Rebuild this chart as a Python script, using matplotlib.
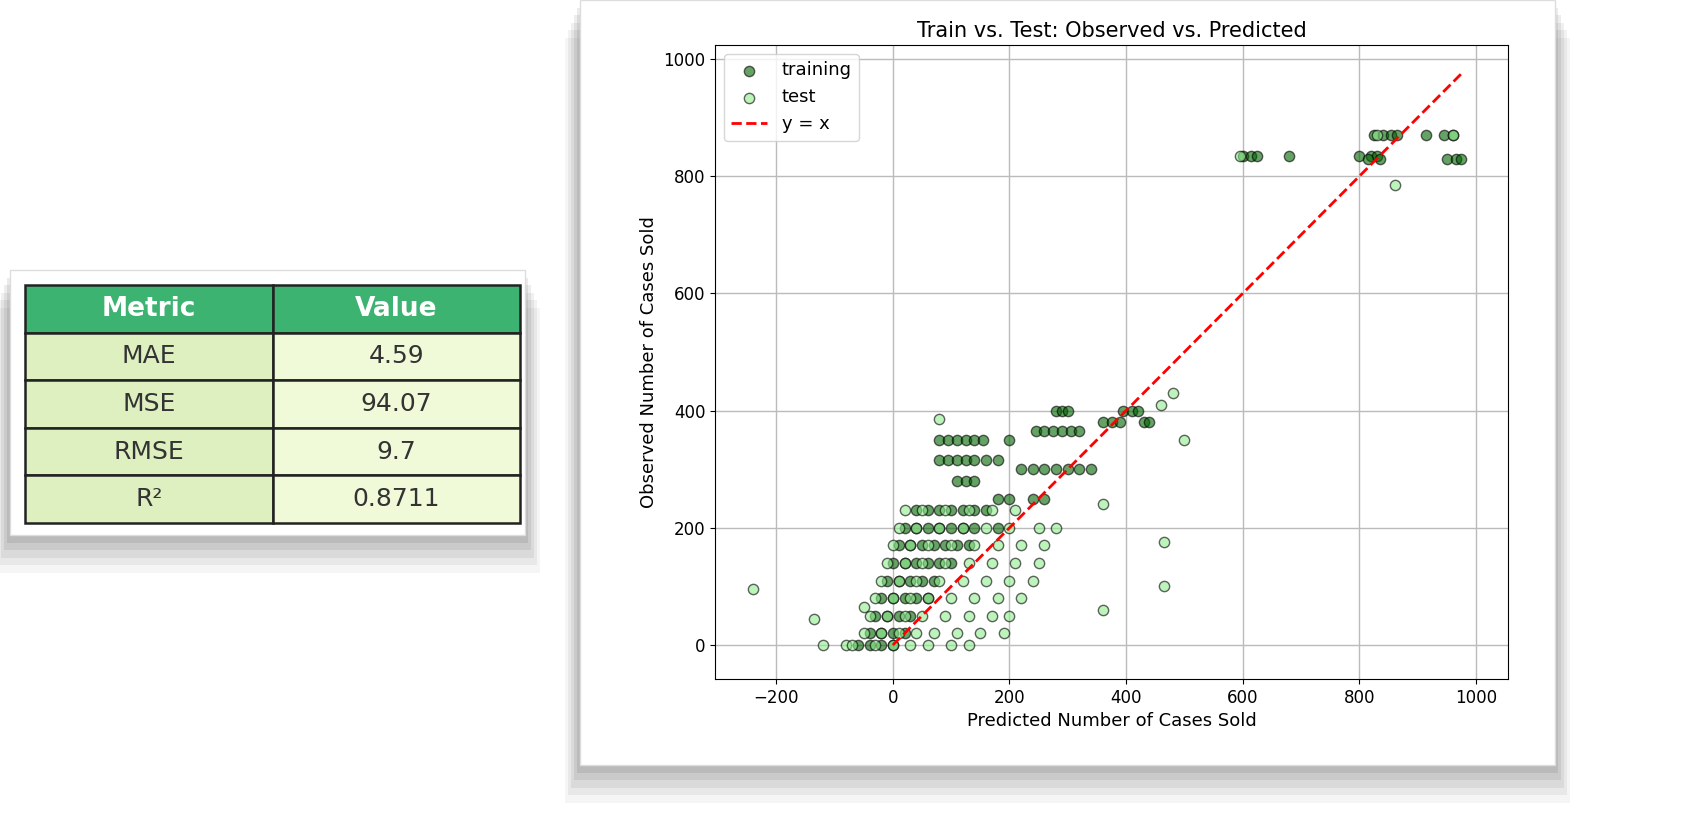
import numpy as np
import matplotlib.pyplot as plt
from matplotlib.patches import Rectangle

# === Datos (leídos a ojo del gráfico) ===
metrics = ["MAE", "MSE", "RMSE", "R²"]
values = ["4.59", "94.07", "9.7", "0.8711"]

# training: observado -> lista de predichos
train_rows = {
    870: [825, 840, 855, 865, 915, 945, 960],
    835: [600, 615, 625, 680, 800, 820, 830],
    830: [815, 835, 950, 965, 975],
    400: [280, 290, 300, 395, 410, 420],
    380: [360, 375, 390, 430, 440],
    365: [245, 260, 275, 290, 305, 320],
    350: [80, 95, 110, 125, 140, 155, 200],
    315: [80, 95, 110, 125, 140, 160, 180],
    300: [220, 240, 260, 280, 300, 320, 340],
    280: [110, 125, 140],
    250: [180, 200, 240, 260],
    230: [40, 60, 80, 100, 120, 140, 160],
    200: [20, 40, 60, 80, 100, 120, 140, 180],
    170: [10, 30, 50, 70, 90, 110, 130],
    140: [0, 20, 40, 60, 80, 100],
    110: [-10, 10, 30, 50, 70],
    80: [-20, 0, 20, 40, 60],
    50: [-30, -10, 10, 30],
    20: [-40, -20, 0, 20],
    0: [-60, -40, -20, 0],
}
test_rows = {
    870: [830, 960],
    835: [595],
    785: [862],
    430: [480],
    410: [460],
    385: [80],
    350: [500],
    240: [360],
    230: [20, 50, 90, 130, 170, 210],
    200: [10, 40, 80, 120, 160, 200, 250, 280],
    175: [465],
    170: [0, 30, 60, 100, 140, 180, 220, 260],
    140: [-10, 20, 50, 90, 130, 170, 210, 250],
    110: [-20, 10, 40, 80, 120, 160, 200, 240],
    100: [465],
    95: [-240],
    80: [-30, 0, 30, 60, 100, 140, 180, 220],
    65: [-50],
    60: [360],
    50: [-40, -10, 20, 50, 90, 130, 170, 200],
    45: [-135],
    20: [-50, -20, 10, 40, 70, 110, 150, 190],
    0: [-120, -80, -70, -30, 0, 30, 60, 100, 130],
}

def aplanar(rows):
    xs, ys = [], []
    for y, lista in rows.items():
        xs += lista
        ys += [y] * len(lista)
    return np.array(xs), np.array(ys)

x_train, y_train = aplanar(train_rows)
x_test, y_test = aplanar(test_rows)

fig = plt.figure(figsize=(16.92, 8.36), dpi=100)
fig.patch.set_facecolor("white")

# Sombras y paneles de fondo (detrás de los ejes)
def panel(x0, y0, w, h):
    for i, a in enumerate([0.04, 0.05, 0.06, 0.07, 0.08]):
        d = (5 - i) * 0.006
        fig.patches.append(Rectangle((x0 - d * 0.3, y0 - d * 1.5), w + d * 0.6, h,
                                     transform=fig.transFigure, facecolor="black",
                                     alpha=a, edgecolor="none", zorder=-3))
    fig.patches.append(Rectangle((x0, y0), w, h, transform=fig.transFigure,
                                 facecolor="white", edgecolor="#dddddd", zorder=-2))

panel(580 / 1692, 1 - 765 / 836, 975 / 1692, 765 / 836)
panel(10 / 1692, 1 - 535 / 836, 515 / 1692, 265 / 836)

# === Tabla de métricas ===
axt = fig.add_axes([25 / 1692, 1 - 523 / 836, 495 / 1692, 238 / 836])
axt.axis("off")
tabla = axt.table(cellText=[[m, v] for m, v in zip(metrics, values)],
                  colLabels=["Metric", "Value"], cellLoc="center",
                  bbox=[0, 0, 1, 1])
tabla.auto_set_font_size(False)
for (r, c), celda in tabla.get_celld().items():
    celda.set_linewidth(1.8)
    celda.set_edgecolor("#222222")
    if r == 0:
        celda.set_facecolor("#3cb371")
        celda.get_text().set_color("white")
        celda.get_text().set_fontweight("bold")
        celda.get_text().set_fontsize(19)
    else:
        celda.set_facecolor("#dff0c0" if c == 0 else "#f0fad8")
        celda.get_text().set_color("#333333")
        celda.get_text().set_fontsize(18)

# === Scatter ===
ax = fig.add_axes([715 / 1692, 1 - 679 / 836, 793 / 1692, 634 / 836])
ax.scatter(x_train, y_train, s=55, c="darkgreen", alpha=0.6,
           edgecolors="black", label="training", zorder=3)
ax.scatter(x_test, y_test, s=55, c="lightgreen", alpha=0.6,
           edgecolors="black", label="test", zorder=3)
lim = [0, 975]
ax.plot(lim, lim, "r--", lw=2, label="y = x", zorder=4)
ax.set_xlim(-305, 1055)
ax.set_ylim(-58, 1024)
ax.set_xticks([-200, 0, 200, 400, 600, 800, 1000])
ax.set_yticks([0, 200, 400, 600, 800, 1000])
ax.tick_params(labelsize=12)
ax.grid(True, color="#bbbbbb", lw=1)
ax.set_axisbelow(True)
ax.set_title("Train vs. Test: Observed vs. Predicted", fontsize=15)
ax.set_xlabel("Predicted Number of Cases Sold", fontsize=13)
ax.set_ylabel("Observed Number of Cases Sold", fontsize=13)
ax.legend(loc="upper left", fontsize=13)

plt.savefig("out.png", dpi=100)
